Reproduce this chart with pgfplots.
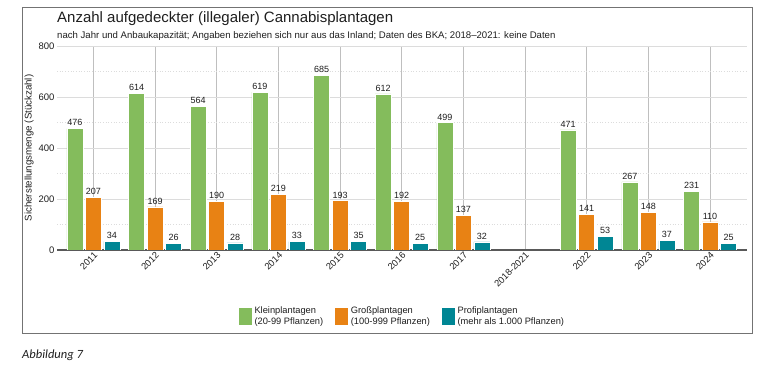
\documentclass[border=0pt]{standalone}
\usepackage{fontspec}
\setmainfont{Liberation Sans}
\newfontfamily\carlito{Carlito}
\usepackage{pgfplots}
\pgfplotsset{compat=1.18}
\definecolor{cgreen}{RGB}{132,188,92}
\definecolor{corange}{RGB}{232,130,20}
\definecolor{cteal}{RGB}{0,134,148}
\definecolor{gridc}{RGB}{220,220,220}
\definecolor{txt}{RGB}{30,30,30}
\begin{document}
\begin{tikzpicture}
\path[use as bounding box] (0pt,0pt) rectangle (774pt,369pt);
\draw[black!55, line width=1pt] (22pt,35pt) rectangle (752pt,361pt);
\node[anchor=west, inner sep=0pt, text=txt, font=\fontsize{15}{17}\selectfont] at (57pt,350pt) {Anzahl aufgedeckter (illegaler) Cannabisplantagen};
\node[anchor=west, inner sep=0pt, text=txt, font=\fontsize{9.6}{11}\selectfont] at (57pt,333pt) {nach Jahr und Anbaukapazität; Angaben beziehen sich nur aus das Inland; Daten des BKA; 2018–2021: keine Daten};
\node[anchor=west, inner sep=0pt, text=txt, font=\carlito\itshape\fontsize{12.5}{14}\selectfont] at (22pt,14pt) {Abbildung 7};
\begin{axis}[
  at={(57pt,119pt)}, anchor=south west, scale only axis,
  width=690pt, height=204pt,
  ybar=2.5pt, bar width=16pt,
  ymin=0, ymax=800,
  ytick={0,200,400,600,800}, minor ytick={100,300,500,700},
  xmin=-0.59, xmax=10.6,
  xtick={0,...,10},
  xticklabels={2011,2012,2013,2014,2015,2016,2017,2018-2021,2022,2023,2024},
  xticklabel style={rotate=45, anchor=north east, font=\fontsize{9.3}{10}\selectfont, text=txt, inner sep=1pt},
  yticklabel style={font=\fontsize{9.5}{10}\selectfont, text=txt, xshift=1pt},
  /pgf/number format/assume math mode=true,
  major tick length=0pt, minor tick length=0pt,
  ymajorgrids, yminorgrids, xmajorgrids,
  major y grid style={gridc, line width=0.9pt},
  minor y grid style={gridc, line width=0.7pt, dotted},
  major x grid style={black!25, line width=0.7pt},
  axis lines*=left,
  y axis line style={draw=none},
  x axis line style={black!65, line width=1.6pt},
  ylabel={Sicherstellungsmenge (Stückzahl)},
  ylabel style={font=\fontsize{9.7}{11}\selectfont, text=txt, yshift=-2pt},
  nodes near coords,
  every node near coord/.append style={font=\fontsize{9}{10}\selectfont, text=txt, yshift=-1pt},
  legend style={at={(0.5,-0.325)}, anchor=center, legend columns=3, draw=none,
    font=\fontsize{9.3}{11}\selectfont, text=txt, cells={align=left},
    /tikz/every even column/.append style={column sep=9pt}},
  legend image code/.code={\fill[#1] (0pt,-9pt) rectangle (14pt,9pt);},
]
\addplot[fill=cgreen, draw=white, line width=0.6pt] coordinates {(0,476) (1,614) (2,564) (3,619) (4,685) (5,612) (6,499) (8,471) (9,267) (10,231)};
\addlegendentry{Kleinplantagen\\(20-99 Pflanzen)}
\addplot[fill=corange, draw=white, line width=0.6pt] coordinates {(0,207) (1,169) (2,190) (3,219) (4,193) (5,192) (6,137) (8,141) (9,148) (10,110)};
\addlegendentry{Großplantagen\\(100-999 Pflanzen)}
\addplot[fill=cteal, draw=white, line width=0.6pt] coordinates {(0,34) (1,26) (2,28) (3,33) (4,35) (5,25) (6,32) (8,53) (9,37) (10,25)};
\addlegendentry{Profiplantagen\\(mehr als 1.000 Pflanzen)}
\end{axis}
\end{tikzpicture}
\end{document}
